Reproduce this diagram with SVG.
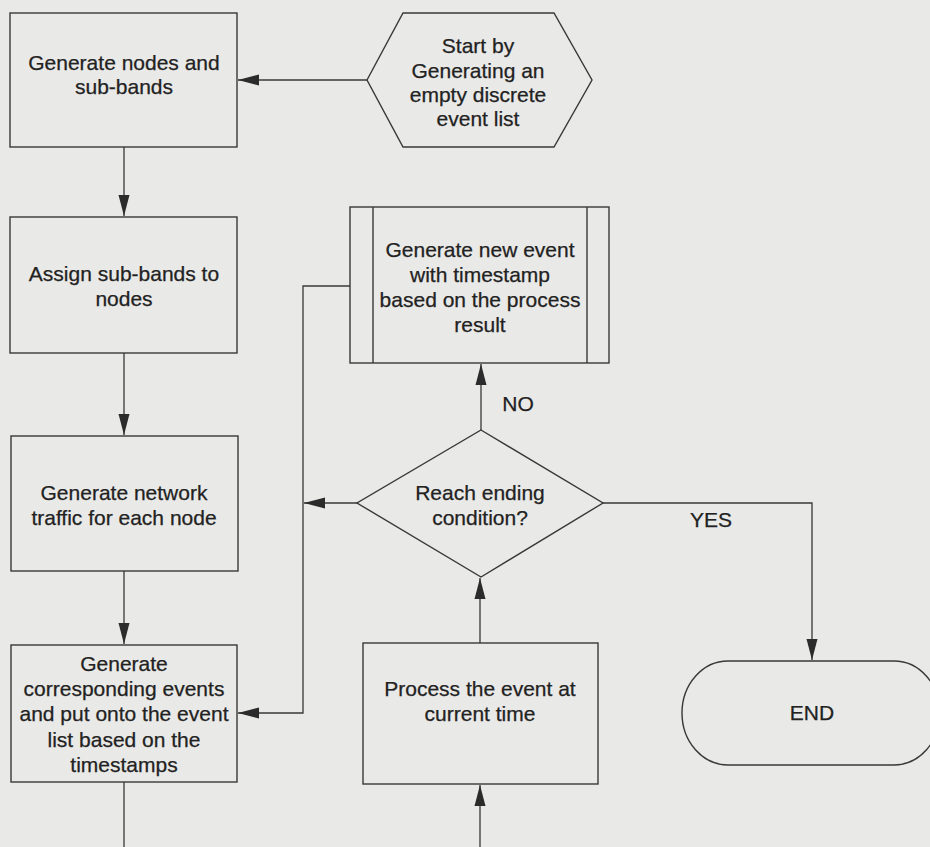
<svg xmlns="http://www.w3.org/2000/svg" width="930" height="847" viewBox="0 0 930 847">
  <style>
    .shape { fill: none; stroke: #383838; stroke-width: 1.4; }
    .wire { fill: none; stroke: #383838; stroke-width: 1.3; }
    .label { font-family: "Liberation Sans", Arial, sans-serif; font-size: 21px; fill: #222222; stroke: #222222; stroke-width: 0.25; text-anchor: middle; }
  </style>
  <defs>
    <marker id="arrow" markerUnits="userSpaceOnUse" markerWidth="22" markerHeight="12" refX="21" refY="6" orient="auto">
      <path d="M0,0.5 L21,6 L0,11.5 Z" fill="#2b2b2b"/>
    </marker>
  </defs>

  <rect width="930" height="847" fill="#e9e9e7"/>

  <!-- connectors -->
  <g id="connectors">
    <path class="wire" d="M367,80 H238" marker-end="url(#arrow)"/>
    <path class="wire" d="M124,147 V216" marker-end="url(#arrow)"/>
    <path class="wire" d="M124,353 V435" marker-end="url(#arrow)"/>
    <path class="wire" d="M124,571 V644" marker-end="url(#arrow)"/>
    <path class="wire" d="M124,782 V847"/>
    <path class="wire" d="M350,286 H303 V713 H238" marker-end="url(#arrow)"/>
    <path class="wire" d="M357,503 H304" marker-end="url(#arrow)"/>
    <path class="wire" d="M481,430 V364" marker-end="url(#arrow)"/>
    <path class="wire" d="M603,503 H812 V660" marker-end="url(#arrow)"/>
    <path class="wire" d="M480,643 V578" marker-end="url(#arrow)"/>
    <path class="wire" d="M480,847 V785" marker-end="url(#arrow)"/>
    <text class="label" x="518" y="411">NO</text>
    <text class="label" x="711" y="527">YES</text>
  </g>

  <!-- process steps -->
  <g id="gen-nodes">
    <rect class="shape" x="10" y="13" width="227" height="134"/>
    <text class="label" x="124" y="70">Generate nodes and</text>
    <text class="label" x="124" y="94">sub-bands</text>
  </g>

  <g id="start">
    <polygon class="shape" points="367,80 403,13 554,13 592,80 554,147 403,147"/>
    <text class="label" x="478" y="53">Start by</text>
    <text class="label" x="478" y="78">Generating an</text>
    <text class="label" x="478" y="102">empty discrete</text>
    <text class="label" x="478" y="126">event list</text>
  </g>

  <g id="assign-subbands">
    <rect class="shape" x="10" y="217" width="227" height="136"/>
    <text class="label" x="124" y="281">Assign sub-bands to</text>
    <text class="label" x="124" y="306">nodes</text>
  </g>

  <g id="gen-traffic">
    <rect class="shape" x="11" y="436" width="227" height="135"/>
    <text class="label" x="124" y="500">Generate network</text>
    <text class="label" x="124" y="525">traffic for each node</text>
  </g>

  <g id="gen-events">
    <rect class="shape" x="11" y="645" width="226" height="137"/>
    <text class="label" x="124" y="671">Generate</text>
    <text class="label" x="124" y="696">corresponding events</text>
    <text class="label" x="124" y="721">and put onto the event</text>
    <text class="label" x="124" y="747">list based on the</text>
    <text class="label" x="124" y="772">timestamps</text>
  </g>

  <g id="new-event">
    <rect class="shape" x="350" y="207" width="259" height="156"/>
    <line class="shape" x1="373" y1="207" x2="373" y2="363"/>
    <line class="shape" x1="587" y1="207" x2="587" y2="363"/>
    <text class="label" x="480" y="257">Generate new event</text>
    <text class="label" x="480" y="282">with timestamp</text>
    <text class="label" x="480" y="307">based on the process</text>
    <text class="label" x="480" y="332">result</text>
  </g>

  <g id="ending-check">
    <polygon class="shape" points="481,430 603,503 481,577 357,503"/>
    <text class="label" x="480" y="500">Reach ending</text>
    <text class="label" x="480" y="525">condition?</text>
  </g>

  <g id="process-event">
    <rect class="shape" x="363" y="643" width="235" height="141"/>
    <text class="label" x="480" y="696">Process the event at</text>
    <text class="label" x="480" y="721">current time</text>
  </g>

  <g id="end">
    <rect class="shape" x="682" y="661" width="258" height="104" rx="46" ry="52"/>
    <text class="label" x="812" y="720">END</text>
  </g>
</svg>
